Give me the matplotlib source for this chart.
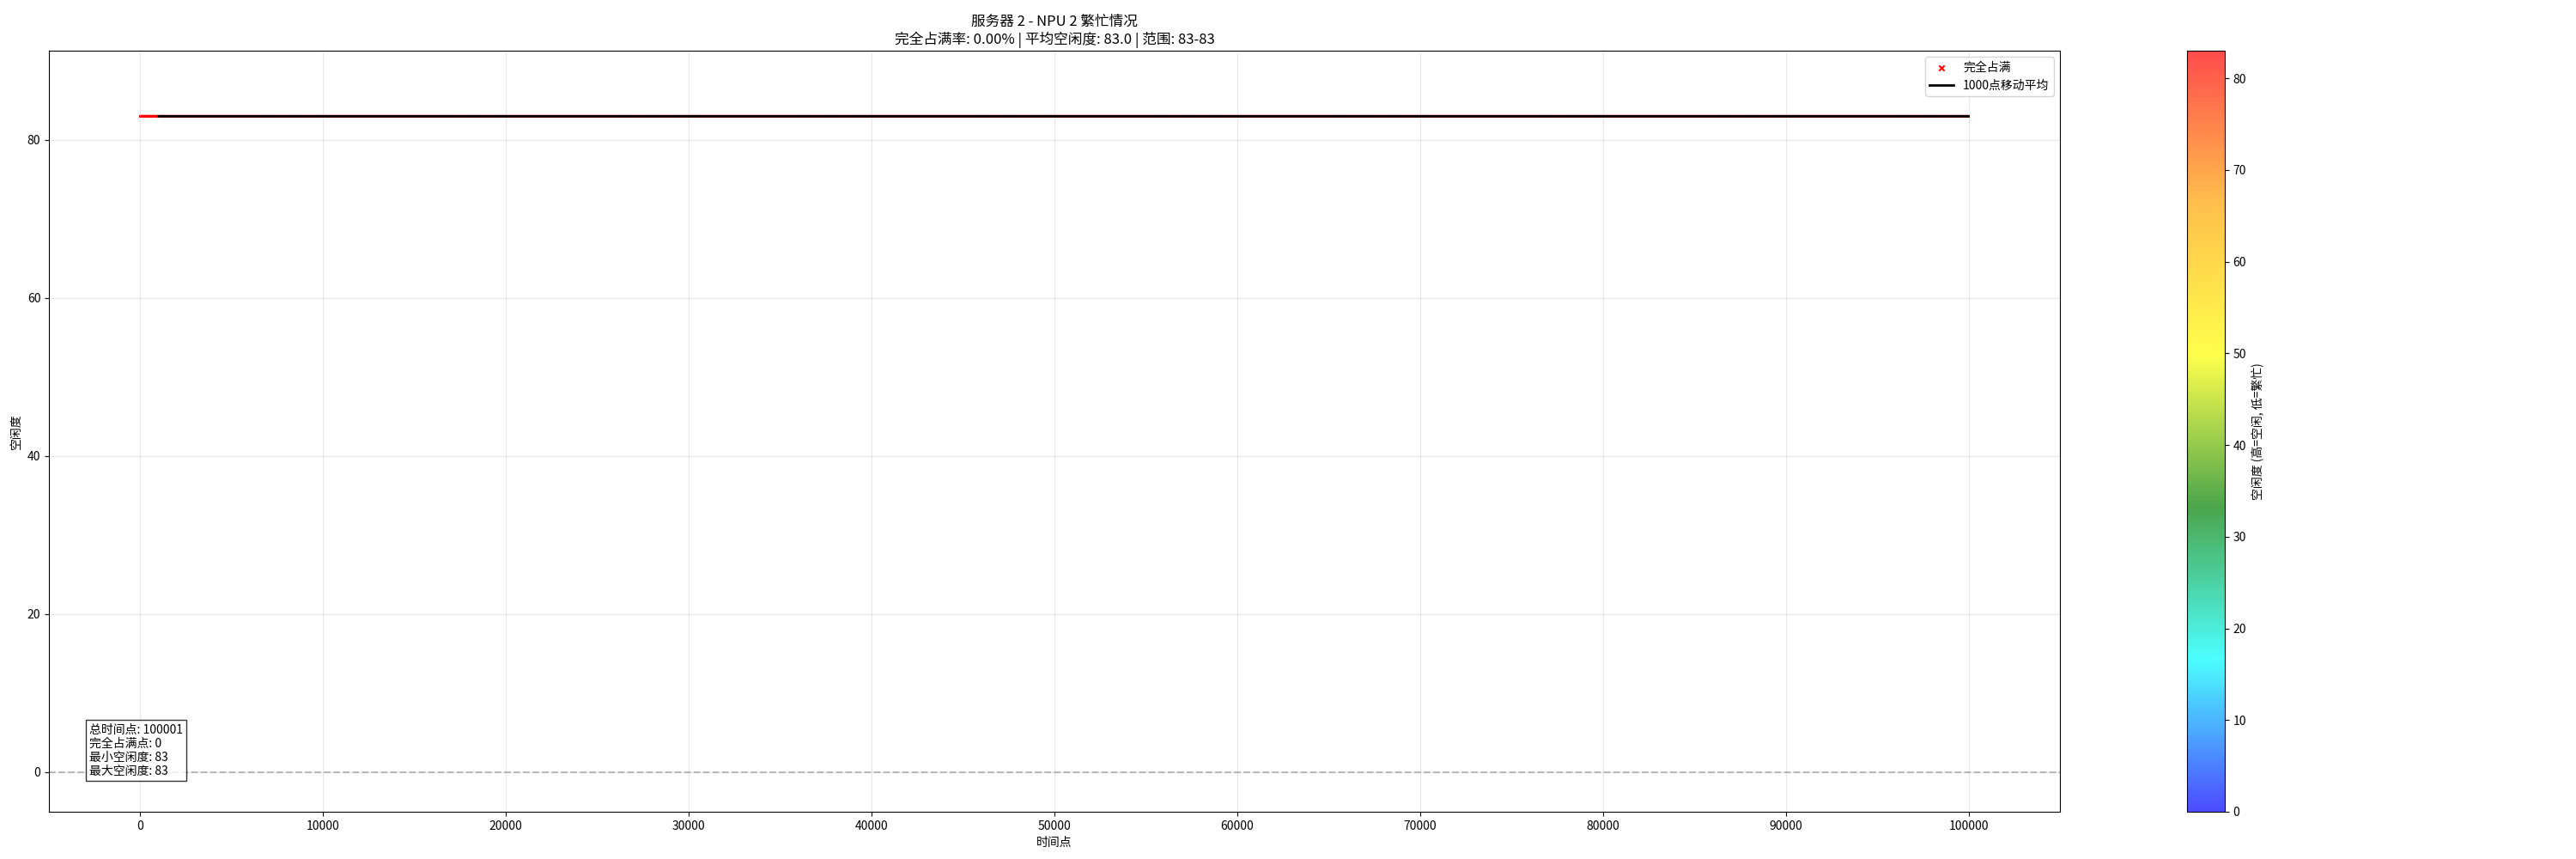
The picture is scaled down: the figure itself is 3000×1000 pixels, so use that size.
import numpy as np
import matplotlib
matplotlib.use("Agg")
import matplotlib.pyplot as plt
from matplotlib.colors import LinearSegmentedColormap
from matplotlib.ticker import MultipleLocator

plt.rcParams["font.family"] = ["Noto Sans CJK SC", "DejaVu Sans"]
plt.rcParams["axes.unicode_minus"] = False

# data: every time point sits at idle = 83
server_id = 2
npu_id = 2
n_points = 100001
idle_level = 83
window = 1000
cmap_colors = ["blue", "cyan", "green", "yellow", "orange", "red"]

idle = np.full(n_points, idle_level, dtype=float)
t = np.arange(n_points)
full_mask = idle == 0
full_count = int(full_mask.sum())
full_rate = full_count / n_points * 100

# moving average (valid part only)
ma = np.convolve(idle, np.ones(window) / window, mode="valid")
ma_t = t[window - 1:]

cmap = LinearSegmentedColormap.from_list("idle", cmap_colors)

fig = plt.figure(figsize=(30, 10), dpi=100)
ax = fig.add_axes([0.019, 0.055, 0.7807, 0.886])
cax = fig.add_axes([0.849, 0.055, 0.01467, 0.886])

sc = ax.scatter(t, idle, c=idle, cmap=cmap, vmin=0, vmax=idle.max(),
                s=1, alpha=0.7)
ax.scatter(t[full_mask], idle[full_mask], color="red", marker="x", s=20,
           label="完全占满")
ax.plot(ma_t, ma, color="black", lw=2, label=f"{window}点移动平均")
ax.axhline(0, color="gray", linestyle="--", alpha=0.5)

ax.set_ylim(-5, idle.max() * 1.1)
ax.xaxis.set_major_locator(MultipleLocator(10000))
ax.set_title(f"服务器 {server_id} - NPU {npu_id} 繁忙情况\n"
             f"完全占满率: {full_rate:.2f}% | 平均空闲度: {idle.mean():.1f} | "
             f"范围: {int(idle.min())}-{int(idle.max())}", fontsize=12)
ax.set_xlabel("时间点")
ax.set_ylabel("空闲度")
ax.grid(True, alpha=0.3)
ax.legend(loc="upper right", fontsize=10)

stats = (f"总时间点: {n_points}\n完全占满点: {full_count}\n"
         f"最小空闲度: {int(idle.min())}\n最大空闲度: {int(idle.max())}")
ax.text(0.02, 0.045, stats, transform=ax.transAxes, fontsize=10,
        va="bottom", ha="left",
        bbox=dict(boxstyle="square", facecolor="white", alpha=0.8))

cb = fig.colorbar(sc, cax=cax)
cb.set_label("空闲度 (高=空闲, 低=繁忙)")

fig.savefig("out.png", dpi=100)
